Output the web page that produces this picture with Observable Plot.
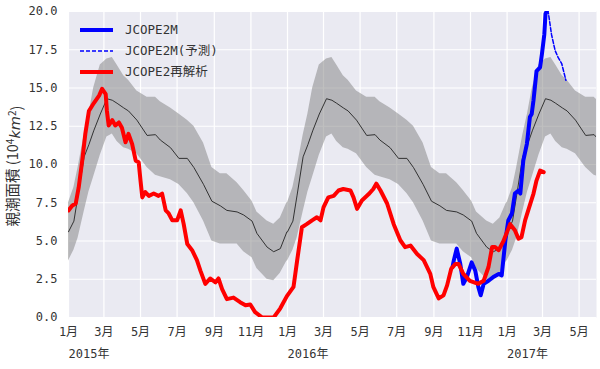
<!DOCTYPE html>
<html><head><meta charset="utf-8">
<script src="https://cdn.jsdelivr.net/npm/d3@7"></script>
<script src="https://cdn.jsdelivr.net/npm/@observablehq/plot@0.6"></script>
<style>body{margin:0;background:#fff} svg{display:block}</style>
</head><body><div id="chart"></div>
<script>
// Climatology (mean ± std) by day of year, repeated for each year
const climYears = [2015, 2016, 2017];
const climMonthDay = ["01-01","01-10","01-17","01-27","02-04","02-12","02-23","03-06","03-15","03-23","04-03","04-11","04-25","05-12","05-26","06-03","06-20","07-04","07-18","07-29","08-14","08-28","09-11","09-22","10-09","10-20","11-03","11-11","11-28","12-09","12-20","12-31"];
const climMean = [5.6,6.3,8.0,10.5,11.3,12.2,13.3,14.3,14.2,14.0,13.7,13.5,12.9,11.9,11.95,11.6,11.1,10.4,10.4,9.8,8.7,7.6,7.3,7.0,6.9,6.7,6.3,5.5,4.6,4.3,4.5,5.6];
const climLow  = [3.7,4.4,5.2,6.9,8.2,9.2,10.6,11.8,12.0,11.5,11.1,11.0,10.7,9.8,9.3,9.2,9.0,8.7,8.1,7.5,6.3,5.0,4.8,4.8,4.8,4.3,3.9,3.2,2.5,2.4,2.9,3.7];
const climHigh = [7.5,8.5,9.8,11.9,13.3,15.0,16.5,16.9,17.0,16.5,15.8,15.5,14.8,14.4,14.4,14.1,13.7,13.3,12.9,12.5,11.4,9.8,9.4,9.4,8.8,8.3,7.6,6.9,6.3,6.1,6.5,7.5];

// JCOPE2 reanalysis
const reanalysis = [
 ["2015-01-01",7.0],["2015-01-07",7.3],["2015-01-13",7.45],["2015-01-18",8.5],["2015-01-24",10.3],["2015-01-29",12.0],
 ["2015-02-04",13.5],["2015-02-12",14.0],["2015-02-21",14.5],["2015-02-26",14.95],["2015-03-04",14.6],["2015-03-06",13.5],
 ["2015-03-09",12.55],["2015-03-15",12.9],["2015-03-20",12.55],["2015-03-26",12.75],["2015-03-31",12.4],["2015-04-06",11.45],
 ["2015-04-11",12.0],["2015-04-17",11.35],["2015-04-23",10.25],["2015-04-28",10.15],["2015-05-01",8.95],["2015-05-04",7.85],
 ["2015-05-09",8.2],["2015-05-15",7.95],["2015-05-23",8.1],["2015-05-31",7.95],["2015-06-06",8.1],["2015-06-12",7.0],
 ["2015-06-17",6.8],["2015-06-23",6.35],["2015-07-01",6.35],["2015-07-07",7.0],["2015-07-12",6.1],["2015-07-18",4.8],
 ["2015-07-26",4.4],["2015-08-03",3.75],["2015-08-09",3.05],["2015-08-17",2.2],["2015-08-25",2.55],["2015-09-03",2.3],
 ["2015-09-08",2.55],["2015-09-14",1.85],["2015-09-22",1.2],["2015-10-03",1.3],["2015-10-14",1.0],["2015-10-23",0.8],
 ["2015-10-31",0.85],["2015-11-08",0.35],["2015-11-20",0.0],["2015-12-09",0.0],["2015-12-20",0.6],["2015-12-31",1.4],
 ["2016-01-11",2.0],["2016-01-17",3.7],["2016-01-25",5.9],["2016-02-02",6.1],["2016-02-11",6.35],["2016-02-19",6.55],
 ["2016-02-25",6.35],["2016-03-01",7.2],["2016-03-09",7.85],["2016-03-18",7.95],["2016-03-26",8.3],["2016-04-03",8.4],
 ["2016-04-15",8.3],["2016-04-20",7.85],["2016-04-26",7.1],["2016-05-04",7.65],["2016-05-15",8.05],["2016-05-23",8.4],
 ["2016-05-28",8.75],["2016-06-04",8.3],["2016-06-15",7.45],["2016-06-26",6.1],["2016-07-07",5.05],["2016-07-15",4.6],
 ["2016-07-24",4.7],["2016-08-04",4.15],["2016-08-15",3.75],["2016-08-26",2.85],["2016-08-31",2.0],["2016-09-09",1.25],
 ["2016-09-17",1.45],["2016-09-23",2.1],["2016-09-30",3.2],["2016-10-07",3.5],["2016-10-12",3.5],["2016-10-20",2.85],
 ["2016-10-31",2.4],["2016-11-14",2.2],["2016-11-23",2.4],["2016-12-01",3.3],["2016-12-07",4.6],["2016-12-12",4.6],
 ["2016-12-18",4.4],["2016-12-26",5.0],["2017-01-06",6.1],["2017-01-14",5.7],["2017-01-20",5.15],["2017-01-25",5.25],
 ["2017-01-31",6.35],["2017-02-06",7.1],["2017-02-14",8.1],["2017-02-19",8.95],["2017-02-25",9.6],["2017-03-03",9.5]
];

// JCOPE2M
const jcope2m = [
 ["2016-10-02",3.3],["2016-10-04",3.7],["2016-10-09",4.5],["2016-10-15",3.5],["2016-10-20",2.2],["2016-10-26",2.65],
 ["2016-11-03",3.6],["2016-11-09",3.05],["2016-11-14",2.0],["2016-11-18",1.45],["2016-11-23",2.2],["2016-12-01",2.4],
 ["2016-12-09",2.65],["2016-12-18",2.85],["2016-12-23",2.75],["2016-12-29",5.0],["2017-01-03",6.35],["2017-01-09",6.8],
 ["2017-01-14",8.1],["2017-01-20",8.3],["2017-01-23",8.1],["2017-01-28",10.25],["2017-02-03",11.35],["2017-02-08",13.1],
 ["2017-02-11",13.3],["2017-02-14",14.2],["2017-02-19",16.1],["2017-02-25",16.35],["2017-02-28",17.2],["2017-03-04",18.5],
 ["2017-03-06",19.85],["2017-03-09",20.1]
];

// JCOPE2M forecast
const jcope2mForecast = [
 ["2017-03-09",20.1],["2017-03-11",19.85],["2017-03-16",18.5],["2017-03-22",17.45],["2017-03-27",17.0],["2017-04-02",16.6],["2017-04-09",15.5]
];

const xTickDates = ["2015-01-01","2015-03-01","2015-05-01","2015-07-01","2015-09-01","2015-11-01",
 "2016-01-01","2016-03-01","2016-05-01","2016-07-01","2016-09-01","2016-11-01",
 "2017-01-01","2017-03-01","2017-05-01"];
const yearLabelDates = ["2015-01-01","2016-01-01","2017-01-01"];
const yTicks = [0, 2.5, 5, 7.5, 10, 12.5, 15, 17.5, 20];
const xDomain = ["2015-01-01", "2017-05-30"];

const legendItems = [
 {label: "JCOPE2M", color: "blue", width: 4, dash: null},
 {label: "JCOPE2M(予測)", color: "blue", width: 1.5, dash: "4,2"},
 {label: "JCOPE2再解析", color: "red", width: 4, dash: null}
];

const parse = s => new Date(s + "T00:00:00Z");
const clim = climYears.flatMap(yr => climMonthDay.map((md, i) => ({
  date: parse(`${yr}-${md}`), mean: climMean[i], lo: climLow[i], hi: climHigh[i]
})));
const toRows = arr => arr.map(([d, v]) => ({date: parse(d), value: v}));
const xTicks = xTickDates.map(parse);
const yearDates = yearLabelDates.map(parse);

const font = "'DejaVu Sans Mono','Noto Sans CJK JP',monospace";

const svg = Plot.plot({
  width: 600, height: 369,
  marginLeft: 68, marginRight: 4, marginTop: 11, marginBottom: 52,
  style: {fontFamily: font, fontSize: "12px", color: "#333", background: "#fff"},
  x: {type: "utc", domain: xDomain.map(parse)},
  y: {domain: [0, 20]},
  marks: [
    Plot.frame({fill: "#EAEAF2", stroke: null}),
    Plot.gridX(xTicks, {stroke: "#fff", strokeOpacity: 1, strokeWidth: 1.2}),
    Plot.gridY(yTicks, {stroke: "#fff", strokeOpacity: 1, strokeWidth: 1.2}),
    Plot.areaY(clim, {x: "date", y1: "lo", y2: "hi", fill: "#808080", fillOpacity: 0.5, clip: true}),
    Plot.lineY(clim, {x: "date", y: "mean", stroke: "#222", strokeWidth: 0.9, clip: true}),
    Plot.lineY(toRows(jcope2m), {x: "date", y: "value", stroke: "blue", strokeWidth: 4, clip: true}),
    Plot.lineY(toRows(jcope2mForecast), {x: "date", y: "value", stroke: "blue", strokeWidth: 1.5, strokeDasharray: "4,2", clip: true}),
    Plot.lineY(toRows(reanalysis), {x: "date", y: "value", stroke: "red", strokeWidth: 4, clip: true}),
    Plot.axisX(xTicks, {tickFormat: d => `${d.getUTCMonth() + 1}月`, tickSize: 0, tickPadding: 10, label: null}),
    Plot.axisY(yTicks, {tickFormat: d => d.toFixed(1), tickSize: 0, tickPadding: 11, label: null}),
    Plot.text(yearDates, {x: d => d, frameAnchor: "bottom", dy: 40, text: d => `${d.getUTCFullYear()}年`, textAnchor: "start", fill: "#333"})
  ]
});

const s = d3.select(svg);
// y-axis label
const yl = s.append("text")
  .attr("transform", "translate(18,166) rotate(-90)")
  .attr("text-anchor", "middle")
  .attr("fill", "#333")
  .style("font-family", "'Noto Sans CJK JP','DejaVu Sans',sans-serif")
  .style("font-size", "14.5px");
yl.append("tspan").text("親潮面積 (10");
yl.append("tspan").attr("dy", "-0.45em").style("font-size", "10px").text("4");
yl.append("tspan").attr("dy", "0.45em").style("font-style", "italic").style("font-family", "'DejaVu Sans',sans-serif").text("km");
yl.append("tspan").attr("dy", "-0.45em").style("font-size", "10px").text("2");
yl.append("tspan").attr("dy", "0.45em").text(")");

// legend
const lg = s.append("g").style("font-family", font).style("font-size", "12.5px").attr("text-anchor", "start");
legendItems.forEach((it, i) => {
  const y = 30 + i * 21;
  lg.append("line").attr("x1", 80).attr("x2", 113).attr("y1", y).attr("y2", y)
    .attr("stroke", it.color).attr("stroke-width", it.width)
    .attr("stroke-dasharray", it.dash);
  lg.append("text").attr("x", 125).attr("y", y).attr("dy", "0.35em")
    .attr("text-anchor", "start").attr("fill", "#333").text(it.label);
});

document.getElementById("chart").appendChild(svg);
</script>
</body></html>
